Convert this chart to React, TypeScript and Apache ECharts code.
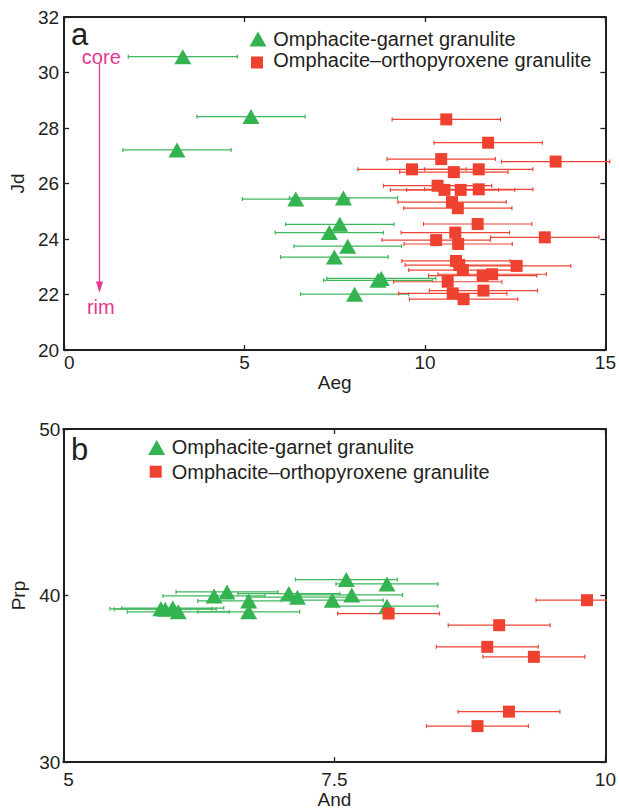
import React, { useEffect, useRef } from "react";
import * as echarts from "echarts";

// ---------- Panel a : Jd vs Aeg ----------
const gA_x = [3.29, 5.18, 3.13, 6.42, 7.74, 7.64, 7.35, 7.86, 7.49, 8.79, 8.70, 8.05];
const gA_y = [30.57, 28.41, 27.21, 25.44, 25.48, 24.53, 24.23, 23.74, 23.35, 22.58, 22.51, 22.01];
const gA_err = [1.51, 1.5, 1.5, 1.48, 1.5, 1.5, 1.5, 1.49, 1.49, 1.51, 1.51, 1.5];

const rA_x = [10.59, 11.75, 10.45, 13.62, 9.64, 11.49, 10.80, 10.35, 11.49, 10.54, 10.99, 10.75, 10.91, 11.46,
  10.84, 10.31, 13.32, 10.92, 10.86, 10.95, 12.54, 11.05, 11.60, 11.86, 10.63, 11.62, 10.77, 11.07];
const rA_y = [28.31, 27.47, 26.88, 26.79, 26.51, 26.51, 26.41, 25.92, 25.79, 25.77, 25.77, 25.33, 25.11, 24.54,
  24.23, 23.96, 24.06, 23.82, 23.21, 23.06, 23.03, 22.88, 22.68, 22.73, 22.46, 22.14, 22.04, 21.83];
const rA_err = [1.5, 1.5, 1.5, 1.5, 1.5, 1.5, 1.5, 1.5, 1.5, 1.5, 1.5, 1.5, 1.5, 1.5,
  1.5, 1.5, 1.5, 1.5, 1.5, 1.5, 1.5, 1.5, 1.5, 1.5, 1.5, 1.5, 1.5, 1.5];

// ---------- Panel b : Prp vs And ----------
const gB_x = [5.90, 5.94, 6.01, 6.06, 6.39, 6.51, 6.71, 6.71, 7.08, 7.16, 7.48, 7.61, 7.66, 7.985, 7.985];
const gB_y = [39.20, 39.18, 39.25, 39.02, 39.98, 40.22, 39.68, 39.02, 40.12, 39.90, 39.72, 40.96, 40.04, 40.70, 39.36];
const gB_err = [0.47, 0.47, 0.47, 0.47, 0.47, 0.47, 0.47, 0.47, 0.47, 0.47, 0.47, 0.47, 0.47, 0.47, 0.47];

const rB_x = [9.83, 9.02, 8.91, 9.34, 9.11, 8.82, 8.00];
const rB_y = [39.72, 38.22, 36.92, 36.32, 33.03, 32.16, 38.92];
const rB_err = [0.47, 0.47, 0.47, 0.47, 0.47, 0.47, 0.47];

const NAME_G = "Omphacite-garnet granulite";
const NAME_R = "Omphacite\u2013orthopyroxene granulite";

const FONT = '"Liberation Sans", Arial, Helvetica, sans-serif';
const INK = "#231f20";
const GREEN = "#34b351";
const GREEN_BAR = "#3fb75c";
const RED = "#ef4130";
const RED_BAR = "#ee4636";
const PINK = "#e8358e";

const zip = (xs: number[], ys: number[], es: number[]) => xs.map((x, i) => [x, ys[i], es[i]]);

function errRender(color: string) {
  return (params: any, api: any) => {
    const x = api.value(0);
    const y = api.value(1);
    const e = api.value(2);
    const l = api.coord([x - e, y]);
    const r = api.coord([x + e, y]);
    const c = 2;
    const style = { stroke: color, lineWidth: 1.2 };
    return {
      type: "group",
      children: [
        { type: "line", shape: { x1: l[0], y1: l[1], x2: r[0], y2: r[1] }, style },
        { type: "line", shape: { x1: l[0], y1: l[1] - c, x2: l[0], y2: l[1] + c }, style },
        { type: "line", shape: { x1: r[0], y1: r[1] - c, x2: r[0], y2: r[1] + c }, style },
      ],
    };
  };
}

function axisCommon(showLabel: boolean) {
  return {
    type: "value",
    axisLine: { show: true, onZero: false, lineStyle: { color: INK, width: 2 } },
    axisTick: { show: true, inside: true, length: 5, lineStyle: { color: INK, width: 1.3 } },
    splitLine: { show: false },
    axisLabel: { show: showLabel, color: INK, fontSize: 19, fontFamily: FONT },
  } as any;
}

const nameStyle = { color: INK, fontSize: 19, fontFamily: FONT };

export default function App() {
  const ref = useRef<HTMLDivElement>(null);
  useEffect(() => {
    document.body.style.margin = "0";
    const chart = echarts.init(ref.current!, null, { renderer: "svg" });

    const option: any = {
      animation: false,
      backgroundColor: "#ffffff",
      grid: [
        { left: 62.5, top: 17, width: 547.5, height: 333 },
        { left: 63.3, top: 429, width: 547.7, height: 334.3 },
      ],
      xAxis: [
        {
          ...axisCommon(true), gridIndex: 0, position: "bottom", min: 0, max: 15, interval: 5,
          axisLabel: { ...axisCommon(true).axisLabel, margin: 3, alignMinLabel: "left" },
          name: "Aeg", nameLocation: "middle", nameGap: 17, nameTextStyle: nameStyle,
        },
        { ...axisCommon(false), gridIndex: 0, position: "top", min: 0, max: 15, interval: 5 },
        {
          ...axisCommon(true), gridIndex: 1, position: "bottom", min: 5, max: 10, interval: 2.5,
          axisLabel: { ...axisCommon(true).axisLabel, margin: 8, alignMinLabel: "left" },
          name: "And", nameLocation: "middle", nameGap: 25, nameTextStyle: nameStyle,
        },
        { ...axisCommon(false), gridIndex: 1, position: "top", min: 5, max: 10, interval: 2.5 },
      ],
      yAxis: [
        {
          ...axisCommon(true), gridIndex: 0, position: "left", min: 20, max: 32, interval: 2,
          axisLabel: { ...axisCommon(true).axisLabel, margin: 5 },
          name: "Jd", nameLocation: "middle", nameGap: 32, nameTextStyle: nameStyle,
        },
        { ...axisCommon(false), gridIndex: 0, position: "right", min: 20, max: 32, interval: 2 },
        {
          ...axisCommon(true), gridIndex: 1, position: "left", min: 30, max: 50, interval: 10,
          axisLabel: { ...axisCommon(true).axisLabel, margin: 3 },
          name: "Prp", nameLocation: "middle", nameGap: 31, nameTextStyle: nameStyle,
        },
        { ...axisCommon(false), gridIndex: 1, position: "right", min: 30, max: 50, interval: 10 },
      ],
      series: [
        {
          type: "custom", name: NAME_G, xAxisIndex: 0, yAxisIndex: 0, clip: false,
          renderItem: errRender(GREEN_BAR), data: zip(gA_x, gA_y, gA_err), encode: { x: 0, y: 1 },
        },
        {
          type: "scatter", name: NAME_G, xAxisIndex: 0, yAxisIndex: 0, symbol: "triangle",
          symbolSize: [17, 15], itemStyle: { color: GREEN, opacity: 1 },
          data: gA_x.map((x, i) => [x, gA_y[i]]),
        },
        {
          type: "custom", name: NAME_R, xAxisIndex: 0, yAxisIndex: 0, clip: false,
          renderItem: errRender(RED_BAR), data: zip(rA_x, rA_y, rA_err), encode: { x: 0, y: 1 },
        },
        {
          type: "scatter", name: NAME_R, xAxisIndex: 0, yAxisIndex: 0, symbol: "rect",
          symbolSize: 12, itemStyle: { color: RED, opacity: 1 },
          data: rA_x.map((x, i) => [x, rA_y[i]]),
        },
        {
          type: "custom", name: NAME_G, xAxisIndex: 2, yAxisIndex: 2, clip: true,
          renderItem: errRender(GREEN_BAR), data: zip(gB_x, gB_y, gB_err), encode: { x: 0, y: 1 },
        },
        {
          type: "scatter", name: NAME_G, xAxisIndex: 2, yAxisIndex: 2, symbol: "triangle",
          symbolSize: [17, 15], itemStyle: { color: GREEN, opacity: 1 },
          data: gB_x.map((x, i) => [x, gB_y[i]]),
        },
        {
          type: "custom", name: NAME_R, xAxisIndex: 2, yAxisIndex: 2, clip: true,
          renderItem: errRender(RED_BAR), data: zip(rB_x, rB_y, rB_err), encode: { x: 0, y: 1 },
        },
        {
          type: "scatter", name: NAME_R, xAxisIndex: 2, yAxisIndex: 2, symbol: "rect",
          symbolSize: 12, itemStyle: { color: RED, opacity: 1 },
          data: rB_x.map((x, i) => [x, rB_y[i]]),
        },
      ],
      graphic: [
        // panel labels
        { type: "text", x: 71, y: 34, style: { text: "a", fill: INK, font: `31px ${FONT}`, textAlign: "left", textVerticalAlign: "middle" } },
        { type: "text", x: 71, y: 449, style: { text: "b", fill: INK, font: `31px ${FONT}`, textAlign: "left", textVerticalAlign: "middle" } },
        // legend a
        { type: "polygon", shape: { points: [[249.5, 46.5], [266.5, 46.5], [258, 31.5]] }, style: { fill: GREEN } },
        { type: "rect", shape: { x: 251, y: 56.5, width: 12, height: 12 }, style: { fill: RED } },
        { type: "text", x: 273.3, y: 39, style: { text: NAME_G, fill: INK, font: `20px ${FONT}`, textAlign: "left", textVerticalAlign: "middle" } },
        { type: "text", x: 273.3, y: 60, style: { text: NAME_R, fill: INK, font: `20px ${FONT}`, textAlign: "left", textVerticalAlign: "middle" } },
        // legend b
        { type: "polygon", shape: { points: [[148.2, 455], [165.2, 455], [156.7, 440]] }, style: { fill: GREEN } },
        { type: "rect", shape: { x: 149.7, y: 465.7, width: 12, height: 12 }, style: { fill: RED } },
        { type: "text", x: 171.7, y: 447, style: { text: NAME_G, fill: INK, font: `20px ${FONT}`, textAlign: "left", textVerticalAlign: "middle" } },
        { type: "text", x: 171.7, y: 472, style: { text: NAME_R, fill: INK, font: `20px ${FONT}`, textAlign: "left", textVerticalAlign: "middle" } },
        // core -> rim arrow
        { type: "text", x: 101.3, y: 57, style: { text: "core", fill: PINK, font: `20px ${FONT}`, textAlign: "center", textVerticalAlign: "middle" } },
        { type: "line", shape: { x1: 99.5, y1: 64, x2: 99.5, y2: 284 }, style: { stroke: PINK, lineWidth: 1.3 } },
        { type: "polygon", shape: { points: [[96, 281.5], [103, 281.5], [99.5, 292.7]] }, style: { fill: PINK } },
        { type: "text", x: 100.8, y: 307, style: { text: "rim", fill: PINK, font: `20px ${FONT}`, textAlign: "center", textVerticalAlign: "middle" } },
      ],
    };
    chart.setOption(option);
    return () => chart.dispose();
  }, []);
  return <div ref={ref} style={{ position: "absolute", left: 0, top: 0, width: 619, height: 810 }} />;
}
